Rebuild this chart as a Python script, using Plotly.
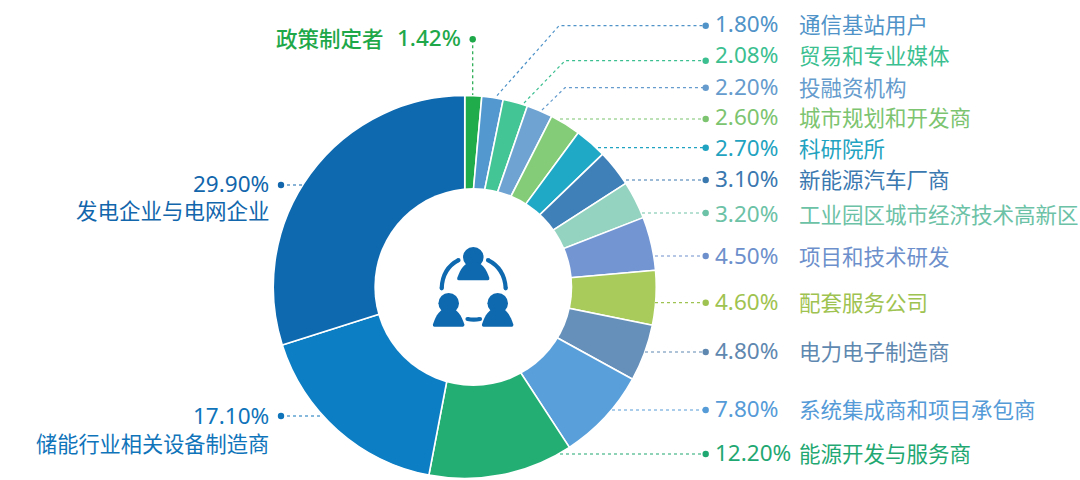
import plotly.graph_objects as go

W, H = 1080, 480

categories = ["政策制定者", "通信基站用户", "贸易和专业媒体", "投融资机构", "城市规划和开发商", "科研院所",
              "新能源汽车厂商", "工业园区城市经济技术高新区", "项目和技术研发", "配套服务公司", "电力电子制造商",
              "系统集成商和项目承包商", "能源开发与服务商", "储能行业相关设备制造商", "发电企业与电网企业"]
values = [1.42, 1.80, 2.08, 2.20, 2.60, 2.70, 3.10, 3.20, 4.50, 4.60, 4.80, 7.80, 12.20, 17.10, 29.90]
slice_colors = ["#21AC4B", "#5399CF", "#44C596", "#6EA3D2", "#84CC78", "#20A9C6", "#4080B8", "#95D3C1",
                "#7396D3", "#A8CB5B", "#6690B9", "#59A0DB", "#23AE74", "#0C7EC4", "#0E69AF"]
text_colors = ["#1FA84A", "#4F93C8", "#3CBF90", "#659CCD", "#7CC46F", "#1FA3C0", "#3A78B0", "#6CC2A6",
               "#6D90CC", "#9FC350", "#5F88B0", "#559BD8", "#1FA872", "#0F74BA", "#1166AC"]

# leader layout in pixels: polyline from the pie to the dot, then text centre heights
right_lines = [[(497, 95.7), (559, 25.7), (705.7, 25.7)],
               [(524, 103), (565, 60.7), (705.7, 60.7)],
               [(542, 110), (565, 87.7), (705.7, 87.7)],
               [(560, 119), (705.7, 119)],
               [(598, 147.7), (705.7, 147.7)],
               [(626, 180), (705.7, 180)],
               [(642, 213), (705.7, 213)],
               [(655, 256), (705.7, 256)],
               [(655, 302.7), (705.7, 302.7)],
               [(645, 352), (705.7, 352)],
               [(612, 410), (705.7, 410)],
               [(560, 454), (705.7, 454)]]
right_text_y = [23, 54, 86, 116, 147.5, 178, 213, 255, 301, 350, 408, 452]

PX = lambda x: x / W
PY = lambda y: 1 - y / H

fig = go.Figure(go.Pie(
    labels=categories, values=values, sort=False, direction="clockwise", rotation=0,
    hole=0, textinfo="none", showlegend=False,
    marker=dict(colors=slice_colors, line=dict(color="white", width=1.6)),
    domain=dict(x=[272.5 / W, 657 / W], y=[1 - 478.5 / H, 1 - 95.5 / H]),
))

shapes = []
annots = []
FONT = "Noto Sans CJK SC, Noto Sans, sans-serif"
NUM_FONT = "Noto Sans, Noto Sans CJK SC, sans-serif"
FS = 21.5
NS = 22.5


def leader(points, color):
    path = "M" + " L".join(f"{PX(x):.5f},{PY(y):.5f}" for x, y in points)
    shapes.append(dict(type="path", path=path, xref="paper", yref="paper",
                       line=dict(color=color, width=1.2, dash="dot")))


def dot(x, y, color, r=3.2):
    shapes.append(dict(type="circle", xref="paper", yref="paper", x0=PX(x - r), x1=PX(x + r),
                       y0=PY(y + r), y1=PY(y - r), fillcolor=color, line=dict(width=0)))


def text(s, x, y, color, anchor="left", weight=400, size=FS, family=FONT):
    annots.append(dict(text=s, x=PX(x), y=PY(y), xref="paper", yref="paper", showarrow=False,
                       xanchor=anchor, yanchor="middle", borderpad=0,
                       font=dict(family=family, size=size, color=color, weight=weight)))


for i in range(12):
    k = i + 1
    c = text_colors[k]
    pts = right_lines[i]
    leader(pts, c)
    dot(pts[-1][0], pts[-1][1], c)
    text(f"{values[k]:.2f}%", 714, right_text_y[i], c, size=NS, family=NUM_FONT)
    text(categories[k], 798, right_text_y[i], c)

# top label
leader([(472.7, 39.3), (472.7, 95)], text_colors[0])
dot(472.7, 39.3, text_colors[0])
text(f"{values[0]:.2f}%", 461.5, 38, text_colors[0], "right", 500, NS, NUM_FONT)
text(categories[0], 385, 37.5, text_colors[0], "right", 500)

# left labels
leader([(281, 185), (303, 185)], text_colors[14])
dot(281, 185, text_colors[14])
text(f"{values[14]:.2f}%", 270, 183, text_colors[14], "right", size=NS, family=NUM_FONT)
text(categories[14], 271, 209, text_colors[14], "right")

leader([(281, 416), (322, 416)], text_colors[13])
dot(281, 416, text_colors[13])
text(f"{values[13]:.2f}%", 269.5, 415, text_colors[13], "right", size=NS, family=NUM_FONT)
text(categories[13], 270, 442, text_colors[13], "right", size=21.2)

# centre hole sits slightly off the pie's centre, as in the reference
shapes.append(dict(type="circle", xref="paper", yref="paper", layer="above",
                   x0=PX(473.3 - 99), x1=PX(473.3 + 99), y0=PY(287 + 99), y1=PY(287 - 99),
                   fillcolor="white", line=dict(width=0)))

ICON = "#0F69AF"


def icon_circle(cx, cy, r):
    shapes.append(dict(type="circle", xref="paper", yref="paper", layer="above",
                       x0=PX(cx - r), x1=PX(cx + r), y0=PY(cy + r), y1=PY(cy - r),
                       fillcolor=ICON, line=dict(width=0)))


def icon_path(cmds, fill=True, width=0):
    parts = []
    for cmd, *pts in cmds:
        parts.append(cmd + " ".join(f"{PX(x):.5f},{PY(y):.5f}" for x, y in pts))
    d = " ".join(parts) + (" Z" if fill else "")
    shapes.append(dict(type="path", path=d, xref="paper", yref="paper", layer="above",
                       fillcolor=ICON if fill else None,
                       line=dict(color=ICON, width=width)))


def body(x0, x1, yb, yt):
    m = (x0 + x1) / 2
    icon_path([("M", (x0 + 1.5, yb)), ("Q", (x0 - 0.5, yb), (x0, yb - 2.5)),
               ("C", (x0 + 3, yb - 11), (m - 9, yt), (m, yt)),
               ("C", (m + 9, yt), (x1 - 3, yb - 11), (x1, yb - 2.5)),
               ("Q", (x1 + 0.5, yb), (x1 - 1.5, yb))])


def stroke(p0, ctrl, p1, width=4.2):
    icon_path([("M", p0), ("Q", ctrl, p1)], fill=False, width=width)
    icon_circle(p0[0], p0[1], width / 2)
    icon_circle(p1[0], p1[1], width / 2)


icon_circle(473.3, 257.3, 10.3)
body(457.3, 489.3, 280.3, 262)
icon_circle(448.7, 303.3, 10.3)
body(433, 464.3, 326.7, 308)
icon_circle(497.7, 303.3, 10.3)
body(482, 513.3, 326.7, 308)
stroke((441.7, 288.3), (442.5, 268.5), (458.5, 260.2))
stroke((488, 260.2), (504.5, 268.5), (505.7, 288.3))
stroke((467.5, 319), (473.8, 320.3), (480, 319))

fig.update_layout(width=W, height=H, margin=dict(l=0, r=0, t=0, b=0),
                  paper_bgcolor="white", plot_bgcolor="white",
                  shapes=shapes, annotations=annots, font=dict(family=FONT))
fig.write_html("out.html", config={"displayModeBar": False},
               post_script="document.body.style.margin='0';")
